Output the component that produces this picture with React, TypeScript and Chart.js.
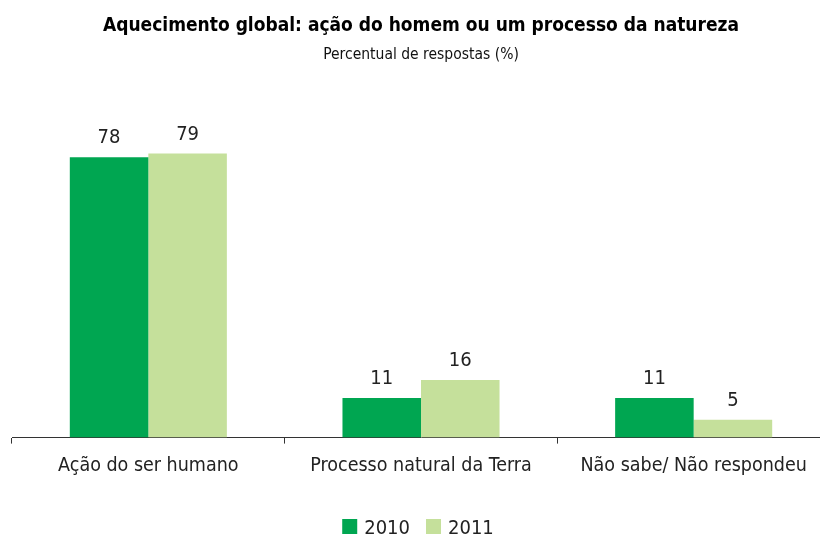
import React, { useEffect, useRef } from "react";
import { Chart, registerables } from "chart.js";

Chart.register(...registerables);

const categories = ["Ação do ser humano", "Processo natural da Terra", "Não sabe/ Não respondeu"];
const series2010 = [78, 11, 11];
const series2011 = [79, 16, 5];
const seriesNames = ["2010", "2011"];
const seriesColors = ["#00A651", "#C5E09B"];

const FONT = "'DejaVu Sans Condensed', 'Liberation Sans', sans-serif";

const valueLabels = {
  id: "valueLabels",
  afterDatasetsDraw(chart: any) {
    const ctx = chart.ctx;
    ctx.save();
    ctx.font = `20px ${FONT}`;
    ctx.fillStyle = "#222";
    ctx.textAlign = "center";
    ctx.textBaseline = "alphabetic";
    chart.data.datasets.forEach((ds: any, i: number) => {
      const meta = chart.getDatasetMeta(i);
      meta.data.forEach((el: any, j: number) => {
        ctx.fillText(String(ds.data[j]), el.x, el.y - 14);
      });
    });
    ctx.restore();
  },
};

const customLegend = {
  id: "customLegend",
  afterDraw(chart: any) {
    const ctx = chart.ctx;
    ctx.save();
    ctx.font = `20px ${FONT}`;
    ctx.textBaseline = "alphabetic";
    ctx.textAlign = "left";
    const box = 15;
    const gapText = 7;
    const gapItem = 16;
    const datasets = chart.data.datasets;
    const widths = datasets.map((d: any) => ctx.measureText(d.label).width);
    let total = 0;
    widths.forEach((w: number, i: number) => {
      total += box + gapText + w + (i < widths.length - 1 ? gapItem : 0);
    });
    let x = 418 - total / 2;
    const yBottom = 534;
    datasets.forEach((d: any, i: number) => {
      ctx.fillStyle = d.backgroundColor;
      ctx.fillRect(x, yBottom - box, box, box);
      x += box + gapText;
      ctx.fillStyle = "#222";
      ctx.fillText(d.label, x, yBottom);
      x += widths[i] + gapItem;
    });
    ctx.restore();
  },
};

export default function App() {
  const ref = useRef<HTMLCanvasElement>(null);
  useEffect(() => {
    if (!ref.current) return;
    const chart = new Chart(ref.current, {
      type: "bar",
      data: {
        labels: categories,
        datasets: [
          { label: seriesNames[0], data: series2010, backgroundColor: seriesColors[0] },
          { label: seriesNames[1], data: series2011, backgroundColor: seriesColors[1] },
        ],
      },
      options: {
        responsive: false,
        animation: false,
        layout: { padding: { left: 12, right: 10, top: 0, bottom: 47 } },
        datasets: { bar: { categoryPercentage: 0.576, barPercentage: 1 } },
        scales: {
          y: { display: false, min: 0, max: 100 },
          x: {
            border: { display: true, color: "#333", width: 1 },
            grid: { display: true, drawOnChartArea: false, drawTicks: true, tickLength: 6, offset: true, color: "#333" },
            ticks: { color: "#222", font: { family: FONT, size: 19.5 }, padding: 11, maxRotation: 0 },
          },
        },
        plugins: {
          title: {
            display: true,
            text: "Aquecimento global: ação do homem ou um processo da natureza",
            color: "#000",
            font: { family: FONT, size: 19, weight: "bold" },
            padding: { top: 15, bottom: 8 },
          },
          subtitle: {
            display: true,
            text: "Percentual de respostas (%)",
            color: "#111",
            font: { family: FONT, size: 15.5 },
            padding: { top: 0, bottom: 13.7 },
          },
          legend: { display: false },
          tooltip: { enabled: false },
        },
      },
      plugins: [valueLabels, customLegend],
    });
    return () => chart.destroy();
  }, []);
  return (
    <div style={{ position: "fixed", left: 0, top: 0, width: 820, height: 536, overflow: "hidden", background: "#fff" }}>
      <canvas ref={ref} width={840} height={536} />
    </div>
  );
}
